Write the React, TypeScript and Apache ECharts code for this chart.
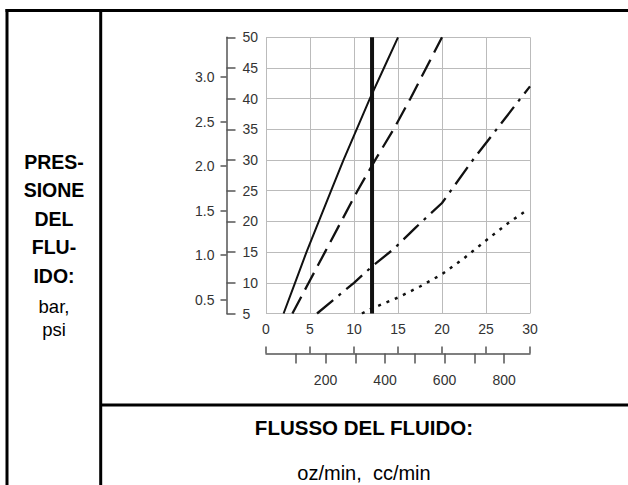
import React, { useEffect, useRef } from "react";
import * as echarts from "echarts";

// ---- data (oz/min on x, psi on y) ----
const solidLine: [number, number][] = [
  [2.0, 5], [3.3, 10], [4.6, 15], [6.0, 20], [7.4, 25], [8.8, 30], [10.3, 35], [11.8, 40], [13.4, 45], [15.0, 50],
];
const dashedLine: [number, number][] = [
  [3.0, 5], [4.85, 10], [6.7, 15], [8.55, 20], [10.4, 25], [12.4, 30], [14.5, 35], [16.4, 40], [18.2, 45], [20.0, 50],
];
const dashDotLine: [number, number][] = [
  [5.8, 5], [10.0, 10], [12.0, 12.6], [14.5, 15.5], [17.0, 19], [20.0, 23], [23.5, 30], [26.2, 35], [28.9, 40], [30.0, 42],
];
const dottedLine: [number, number][] = [
  [10.9, 5], [12.0, 5.8], [13.0, 6.4], [15.0, 7.6], [17.5, 9.4], [20.0, 11.4], [22.5, 14.0], [25.0, 16.9], [27.5, 19.7], [29.3, 21.5],
];
const limitLine: [number, number][] = [
  [12.05, 5], [12.05, 50],
];

const PSI_PER_BAR = 14.5038;
const CC_PER_OZ = 29.5735;
const ozRange = [0, 30];
const psiRange = [5, 50];
const barTicks = [0.5, 1.0, 1.5, 2.0, 2.5, 3.0];
const ccTicks = [100, 200, 300, 400, 500, 600, 700, 800];
const ccLabels = [200, 400, 600, 800];

const leftLabelBold = ["PRES-", "SIONE", "DEL", "FLU-", "IDO:"];
const leftLabelUnits = ["bar,", "psi"];
const bottomTitle = "FLUSSO DEL FLUIDO:";
const bottomUnits = "oz/min,  cc/min";

const FONT = '"Liberation Sans", Arial, Helvetica, sans-serif';

export default function App() {
  const ref = useRef<HTMLDivElement>(null);
  useEffect(() => {
    if (!ref.current) return;
    const chart = echarts.init(ref.current, undefined, { renderer: "svg" });
    const axisColor = "#555";
    const tickText = { color: "#333", fontSize: 14, fontFamily: FONT };
    const gridColor = "#bbb";

    const boldY = [161.5, 190, 218.5, 247, 275.5];
    const unitY = [306, 329];

    const graphics: any[] = [
      { type: "line", shape: { x1: 5.5, y1: 10.5, x2: 628, y2: 10.5 }, style: { stroke: "#000", lineWidth: 3 } },
      { type: "line", shape: { x1: 7, y1: 9, x2: 7, y2: 485 }, style: { stroke: "#000", lineWidth: 3 } },
      { type: "line", shape: { x1: 100.7, y1: 9, x2: 100.7, y2: 485 }, style: { stroke: "#000", lineWidth: 3 } },
      { type: "line", shape: { x1: 100, y1: 405, x2: 628, y2: 405 }, style: { stroke: "#000", lineWidth: 3 } },
      ...leftLabelBold.map((t, i) => ({
        type: "text", x: 54, y: boldY[i],
        style: { text: t, fill: "#000", font: `bold 19.5px ${FONT}`, textAlign: "center", textVerticalAlign: "middle" },
      })),
      ...leftLabelUnits.map((t, i) => ({
        type: "text", x: 54, y: unitY[i],
        style: { text: t, fill: "#000", font: `18.5px ${FONT}`, textAlign: "center", textVerticalAlign: "middle" },
      })),
      {
        type: "text", x: 364, y: 427,
        style: { text: bottomTitle, fill: "#000", font: `bold 20.5px ${FONT}`, textAlign: "center", textVerticalAlign: "middle" },
      },
      {
        type: "text", x: 364, y: 473,
        style: { text: bottomUnits, fill: "#000", font: `20px ${FONT}`, textAlign: "center", textVerticalAlign: "middle" },
      },
    ];

    const mkLine = (data: [number, number][], width: number, type: any) => ({
      type: "line",
      data,
      xAxisIndex: 0,
      yAxisIndex: 0,
      symbol: "none",
      silent: true,
      lineStyle: { color: "#111", width, type, cap: "butt" },
    });

    chart.setOption({
      animation: false,
      grid: { left: 266, top: 37.3, width: 264, height: 276.2, containLabel: false },
      xAxis: [
        {
          type: "value", min: ozRange[0], max: ozRange[1], interval: 5, position: "bottom", offset: 0,
          axisLine: { show: false, onZero: false }, axisTick: { show: false },
          axisLabel: { ...tickText, margin: 8 },
          splitLine: { show: true, lineStyle: { color: gridColor, width: 1 } },
        },
        {
          type: "value", min: ozRange[0], max: ozRange[1], interval: 5, position: "bottom", offset: 40,
          axisLine: { show: true, onZero: false, lineStyle: { color: axisColor, width: 1.5 } },
          axisTick: { show: true, inside: true, length: 7, lineStyle: { color: axisColor, width: 1.5 } },
          axisLabel: { show: false }, splitLine: { show: false },
        },
        {
          type: "value", min: 0, max: ozRange[1] * CC_PER_OZ, position: "bottom", offset: 40,
          axisLine: { show: false, onZero: false },
          axisTick: { show: true, inside: false, length: 10, customValues: ccTicks, lineStyle: { color: axisColor, width: 1.5 } },
          axisLabel: { ...tickText, margin: 19, customValues: ccLabels },
          splitLine: { show: false },
        },
      ],
      yAxis: [
        {
          type: "value", min: psiRange[0], max: psiRange[1], interval: 5, position: "left", offset: 39.5,
          axisLine: { show: true, onZero: false, lineStyle: { color: axisColor, width: 1.5 } },
          axisTick: { show: true, inside: true, length: 9, lineStyle: { color: axisColor, width: 1.5 } },
          axisLabel: { ...tickText, inside: true, margin: 16 },
          splitLine: { show: true, lineStyle: { color: gridColor, width: 1 } },
        },
        {
          type: "value", min: psiRange[0] / PSI_PER_BAR, max: psiRange[1] / PSI_PER_BAR, position: "left", offset: 39.5,
          axisLine: { show: false, onZero: false },
          axisTick: { show: true, inside: false, length: 6, customValues: barTicks, lineStyle: { color: axisColor, width: 1.5 } },
          axisLabel: { ...tickText, margin: 12, customValues: barTicks, formatter: (v: number) => v.toFixed(1) },
          splitLine: { show: false },
        },
      ],
      series: [
        mkLine(solidLine, 2, "solid"),
        mkLine(dashedLine, 2.3, [19, 8]),
        mkLine(dashDotLine, 2.3, [21, 7, 3, 7]),
        mkLine(dottedLine, 2.5, [3, 6]),
        mkLine(limitLine, 4, "solid"),
      ],
      graphic: graphics,
    });
    return () => chart.dispose();
  }, []);
  return <div ref={ref} style={{ position: "fixed", left: 0, top: 0, width: 628, height: 485, background: "#fff" }} />;
}
